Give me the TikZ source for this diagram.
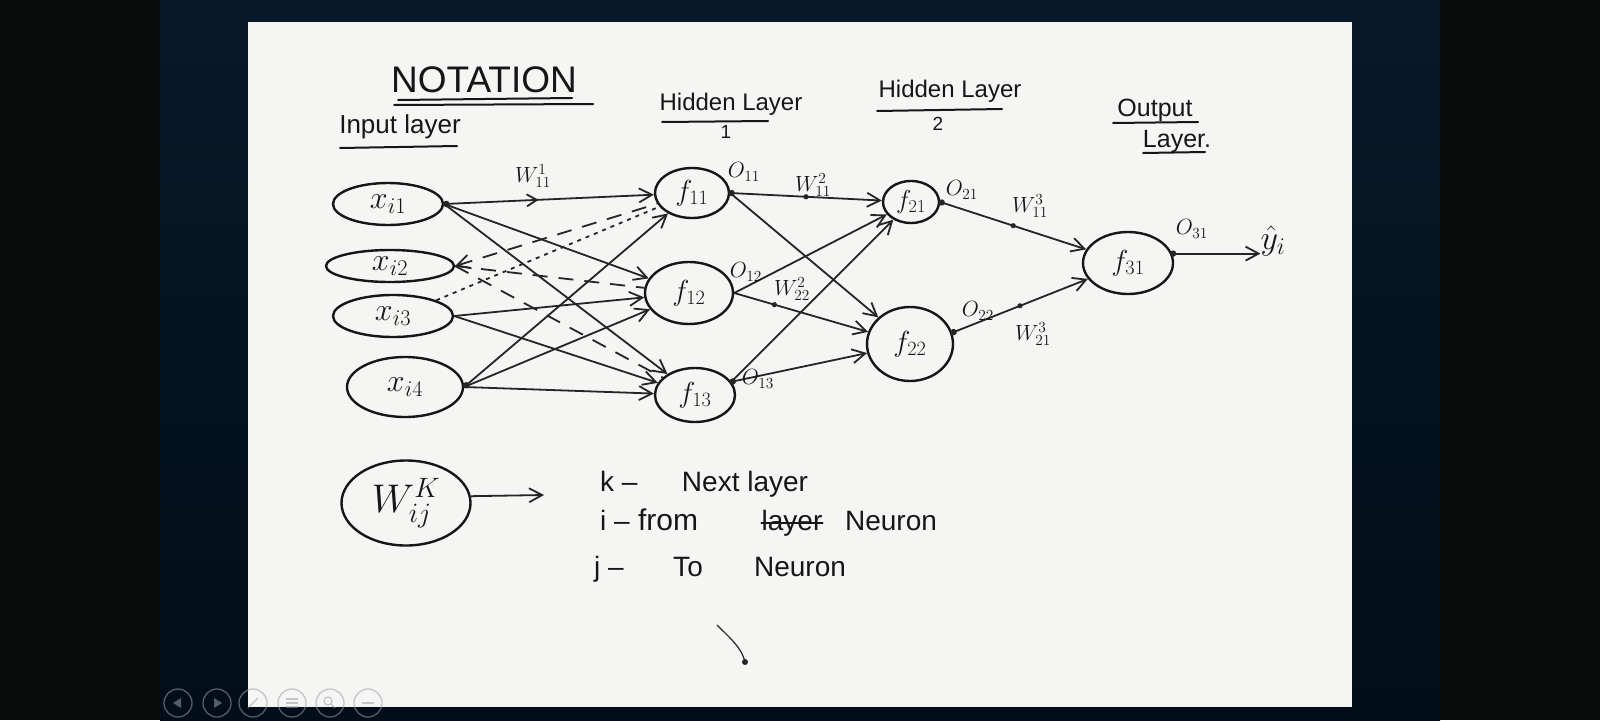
\documentclass[tikz,border=0pt]{standalone}
\usepackage{fix-cm}
\usepackage{fontspec}
\setsansfont{Liberation Sans}
\usetikzlibrary{shapes.geometric,arrows.meta,decorations.markings}
\definecolor{ink}{HTML}{161616}
\definecolor{linec}{HTML}{252525}
\definecolor{paper}{HTML}{F5F5F3}
\definecolor{navyT}{HTML}{07192A}
\definecolor{navyB}{HTML}{010E18}
\definecolor{blk}{HTML}{0A0B0B}
\definecolor{uigray}{HTML}{9A9FA6}
\tikzset{
  neuron/.style={ellipse, draw=ink, line width=2.4pt, inner sep=0pt, text=ink, font=\fontsize{29}{31}\selectfont},
  inneuron/.style={neuron, font=\fontsize{32}{34}\selectfont},
  wire/.style={draw=linec, line width=1.8pt},
  conn/.style={wire, -{Straight Barb[length=13pt,width=14pt]}},
  revconn/.style={wire, {Straight Barb[length=13pt,width=14pt]}-},
  dashwire/.style={wire, dash pattern=on 15pt off 11pt},
  dotwire/.style={wire, dash pattern=on 4pt off 5pt},
  wlabel/.style={text=ink, inner sep=0pt, font=\fontsize{22}{24}\selectfont},
  title/.style={text=ink, inner sep=0pt, font=\sffamily\fontsize{24}{26}\selectfont},
  legend/.style={text=ink, inner sep=0pt, anchor=base, font=\sffamily\fontsize{28}{30}\selectfont},
  uline/.style={draw=ink, line width=2pt, line cap=round},
  middot/.style={postaction={decorate, decoration={markings, mark=at position #1 with {\fill[linec] circle (2.6pt);}}}},
  middot/.default=0.5,
  startdot/.style={postaction={decorate, decoration={markings, mark=at position 0.01 with {\fill[linec] circle (3.2pt);}}}},
  midarrow/.style={postaction={decorate, decoration={markings, mark=at position #1 with {\arrow[line width=1.8pt]{Straight Barb[length=10pt,width=12pt]}}}}},
  midarrow/.default=0.45,
  uicircle/.style={draw=uigray, line width=1.3pt, opacity=0.55},
  uiglyph/.style={fill=uigray, opacity=0.55},
}
\begin{document}
\begin{tikzpicture}[x=1pt,y=-1pt]
\useasboundingbox (0,0) rectangle (1600,720);
% screen background
\fill[blk] (0,0) rectangle (1600,720);
\shade[top color=navyT, bottom color=navyB] (160,0) rectangle (1440,720);
\fill[paper] (248,22) rectangle (1352,707);

% titles
\node[title, font=\sffamily\fontsize{37}{39}\selectfont] (notation) at (484,80) {NOTATION};
\draw[uline] (398,100) -- (572,98);
\draw[uline] (394,105) -- (593,104);
\node[title, font=\sffamily\fontsize{26}{28}\selectfont] (inputl) at (400,127) {Input layer};
\draw[uline] (340,148) -- (457,146);
\node[title] (hid1) at (731,104) {Hidden Layer};
\draw[uline] (662,122) -- (768,121);
\node[title, font=\sffamily\fontsize{19}{21}\selectfont] (hid1n) at (726,132) {1};
\node[title] (hid2) at (950,91) {Hidden Layer};
\draw[uline] (877,111) -- (1002,109);
\node[title, font=\sffamily\fontsize{19}{21}\selectfont] (hid2n) at (938,124) {2};
\node[title, font=\sffamily\fontsize{25}{27}\selectfont] (outl) at (1155,110) {Output};
\draw[uline] (1113,123) -- (1198,122);
\node[title, font=\sffamily\fontsize{25}{27}\selectfont] (layl) at (1177,141) {Layer.};
\draw[uline] (1143,153) -- (1205,152);

% input layer
\node[inneuron, minimum width=110pt, minimum height=42pt] (xi1) at (388,204) {$x_{i1}$};
\node[inneuron, minimum width=128pt, minimum height=32pt] (xi2) at (390,266) {$x_{i2}$};
\node[inneuron, minimum width=120pt, minimum height=42pt] (xi3) at (393,316) {$x_{i3}$};
\node[inneuron, minimum width=116pt, minimum height=60pt] (xi4) at (405,387) {$x_{i4}$};
% hidden layer 1
\node[neuron, minimum width=74pt, minimum height=50pt] (f11) at (692,193) {$f_{11}$};
\node[neuron, minimum width=88pt, minimum height=62pt] (f12) at (689,293) {$f_{12}$};
\node[neuron, minimum width=80pt, minimum height=54pt] (f13) at (695,395) {$f_{13}$};
% hidden layer 2
\node[neuron, minimum width=56pt, minimum height=42pt, font=\fontsize{26}{28}\selectfont] (f21) at (911,202) {$f_{21}$};
\node[neuron, minimum width=86pt, minimum height=74pt] (f22) at (910,344) {$f_{22}$};
% output layer
\node[neuron, minimum width=90pt, minimum height=62pt] (f31) at (1128,263) {$f_{31}$};
\node[wlabel, font=\fontsize{34}{36}\selectfont] (yhat) at (1273,241) {$\hat{y}_i$};

% input -> hidden 1
\draw[conn, startdot, midarrow] (xi1.east) -- (f11);
\draw[conn] (xi1.east) -- (f12);
\draw[conn] (xi1.east) -- (f13);
\draw[dashwire, revconn] (xi2.east) -- (f11);
\draw[dashwire] (xi2.east) -- (f12);
\draw[dashwire] (xi2.east) -- (f13);
\draw[dotwire] (xi3.20) -- (f11);
\draw[conn] (xi3.east) -- (f12);
\draw[conn] (xi3.east) -- (f13);
\draw[conn, startdot] (xi4.east) -- (f11);
\draw[conn] (xi4.east) -- (f12);
\draw[conn] (xi4.east) -- (f13);

% hidden 1 -> hidden 2
\draw[conn, startdot, middot=0.5] (f11.east) -- (f21);
\draw[conn] (f11.east) -- (f22);
\draw[conn] (f12.east) -- (f21);
\draw[conn, middot=0.3] (f12.east) -- (f22);
\draw[conn] (f13.20) -- (f21);
\draw[conn, startdot] (f13.20) -- (f22);

% hidden 2 -> output
\draw[conn, startdot, middot=0.5] (f21.east) -- (f31);
\draw[conn, startdot, middot=0.5] (f22.15) -- (f31);
\draw[conn, startdot] (f31.12) -- (yhat.west |- f31.12);

% weight and output labels
\node[wlabel] (w111) at (533,176) {$W^{1}_{11}$};
\node[wlabel] (o11) at (744,172) {$O_{11}$};
\node[wlabel] (w211) at (813,185) {$W^{2}_{11}$};
\node[wlabel] (o12) at (746,272) {$O_{12}$};
\node[wlabel] (w222) at (792,289) {$W^{2}_{22}$};
\node[wlabel] (o13) at (758,379) {$O_{13}$};
\node[wlabel] (o21) at (962,190) {$O_{21}$};
\node[wlabel] (w311) at (1030,206) {$W^{3}_{11}$};
\node[wlabel] (o22) at (978,311) {$O_{22}$};
\node[wlabel] (w321) at (1033,334) {$W^{3}_{21}$};
\node[wlabel] (o31) at (1192,229) {$O_{31}$};

% notation legend
\node[neuron, minimum width=129pt, minimum height=85pt, font=\fontsize{40}{42}\selectfont] (wkij) at (406,503) {$W^{K}_{ij}$};
\coordinate (wtip) at (544,495);
\draw[conn] (wkij.6) -- (wtip);
\node[legend, anchor=base west] (kdash) at (600,491) {k –};
\node[legend] (nextl) at (745,491) {Next layer};
\node[legend, anchor=base west] (idash) at (600,530) {i –};
\node[legend, font=\sffamily\fontsize{30}{32}\selectfont] (fromw) at (668,530) {from};
\node[legend] (struck) at (792,530) {layer};
\draw[uline] (struck.west) -- (struck.east);
\node[legend] (neur1) at (891,530) {Neuron};
\node[legend, anchor=base west] (jdash) at (594,576) {j –};
\node[legend] (tow) at (688,576) {To};
\node[legend] (neur2) at (800,576) {Neuron};

% stray pen mark
\draw[wire, line width=1.2pt] (717,625) .. controls (730,638) and (742,648) .. (745,662);
\fill[linec] (745,662) circle (3pt);

% slide-show controls
\foreach \cx in {178,217,253,292,330,368} {\draw[uicircle] (\cx,703) circle (14);}
\fill[uiglyph] (173,703) -- (181,698) -- (181,708) -- cycle;
\fill[uiglyph] (214,698) -- (222,703) -- (214,708) -- cycle;
\draw[uicircle] (248,708) -- (258,698);
\draw[uicircle] (286,699) -- (298,699) (286,703) -- (298,703) (286,707) -- (298,707);
\draw[uicircle] (328,701) circle (4) (331,704) -- (335,708);
\draw[uicircle] (362,703) -- (374,703);
\end{tikzpicture}
\end{document}
